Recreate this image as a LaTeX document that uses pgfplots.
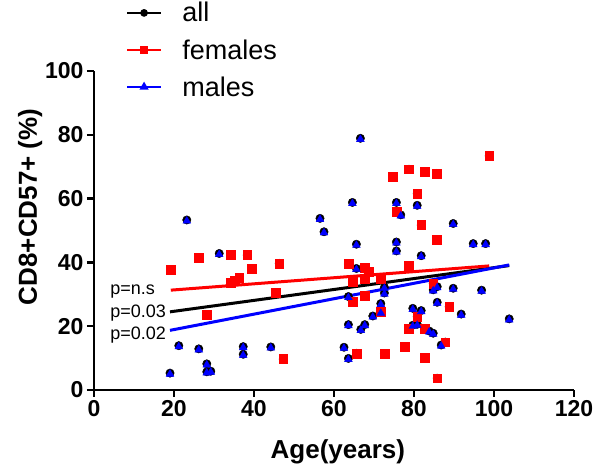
\documentclass[border=0pt]{standalone}
\usepackage{fontspec}
\setmainfont{Liberation Sans}
\usepackage{pgfplots}
\pgfplotsset{compat=1.18}
\usepackage{pgfplotstable}

\pgfplotstableread{
x y
19.0 5.3
21.2 13.9
23.2 53.3
26.2 12.9
28.2 8.2
28.2 5.7
29.2 5.9
31.3 42.8
37.3 13.6
37.3 11.2
44.2 13.5
56.5 53.8
57.5 49.6
62.5 13.4
63.6 9.9
63.6 20.5
63.6 29.3
64.6 58.8
65.6 45.7
65.6 38.1
66.6 78.9
66.7 19.0
67.7 20.5
69.7 23.2
71.7 27.1
71.7 24.4
72.6 32.2
72.6 30.4
75.6 58.8
76.7 54.9
75.6 46.4
75.6 43.6
79.7 25.6
79.7 20.3
80.8 20.6
80.8 57.9
81.8 42.1
81.8 24.9
83.8 18.5
84.8 17.8
84.8 31.4
85.8 32.4
85.8 27.5
86.8 14.1
89.8 52.2
89.8 31.9
91.8 23.8
94.8 45.9
96.9 31.3
97.9 45.9
103.8 22.3
}\males

\pgfplotstableread{
x y
19.2 37.6
26.2 41.5
28.2 23.5
34.2 42.3
38.3 42.3
39.4 38.1
34.2 33.6
35.2 34.3
36.3 35.1
46.3 39.7
45.4 30.5
47.3 9.7
63.6 39.5
64.6 34.0
64.6 27.7
65.6 11.5
67.7 38.4
68.7 37.1
67.7 35.0
67.7 29.6
71.7 34.8
71.7 24.5
72.6 11.4
74.7 66.9
75.7 55.8
78.75 69.2
82.75 68.4
85.7 67.9
80.8 61.6
81.8 51.7
85.7 47.0
78.75 38.9
84.8 33.4
80.8 23.0
78.75 19.3
82.75 19.1
77.7 13.6
82.75 10.2
85.8 3.7
88.8 26.1
87.8 15.0
98.8 73.4
}\females

\pgfplotstableread{
x y
19.0 24.5
103.8 39.0
}\fitall
\pgfplotstableread{
x y
19.2 31.3
98.8 38.9
}\fitfemales
\pgfplotstableread{
x y
19.0 18.7
103.8 39.2
}\fitmales

\definecolor{pred}{RGB}{255,0,0}
\definecolor{pblue}{RGB}{0,0,255}

\begin{document}
\begin{tikzpicture}[x=1pt,y=1pt]
\useasboundingbox (0,0) rectangle (600,468);
\begin{axis}[
  at={(94pt,78pt)}, anchor=south west,
  scale only axis, width=480pt, height=319pt,
  xmin=0, xmax=120, ymin=0, ymax=100,
  xtick={0,20,...,120}, ytick={0,20,...,100},
  axis lines=left,
  axis line style={-, line width=2.4pt, black},
  tick align=outside, major tick length=7pt,
  tick style={line width=2.4pt, black},
  /pgf/number format/assume math mode=true,
  ticklabel style={font=\bfseries\fontsize{23}{27}\selectfont},
  xlabel={Age(years)},
  ylabel={CD8+CD57+ (\%)},
  label style={font=\bfseries\fontsize{26}{30}\selectfont},
  xlabel style={at={(axis description cs:0.508,-0.194)}, anchor=center},
  ylabel style={at={(axis description cs:-0.133,0.574)}, anchor=center, rotate=0},
  clip=false,
  legend style={draw=none, fill=none, at={(axis description cs:0.066,1.222)}, anchor=north west,
    font=\fontsize{27}{31}\selectfont, row sep=12pt, inner sep=0pt,
    /tikz/every odd column/.append style={column sep=18pt}},
  legend cell align=left,
  legend image code/.code={\draw[mark repeat=2,mark phase=2,#1] plot coordinates {(0pt,0pt) (17pt,0pt) (34pt,0pt)};},
]
\addlegendimage{black, line width=2.4pt, mark=*, mark size=2.6pt}
\addlegendentry{all}
\addlegendimage{pred, line width=2.4pt, mark=square*, mark size=2.6pt}
\addlegendentry{females}
\addlegendimage{pblue, line width=2.4pt, mark=triangle*, mark size=3pt}
\addlegendentry{males}

\addplot[only marks, mark=*, mark size=4.2pt, black, forget plot] table[x=x,y=y] {\males};
\addplot[only marks, mark=*, mark size=4.2pt, black, forget plot] table[x=x,y=y] {\females};
\addplot[only marks, mark=square*, mark size=4.4pt, pred, forget plot] table[x=x,y=y] {\females};
\addplot[only marks, mark=triangle*, mark size=4.5pt, pblue, forget plot, mark options={yshift=-1pt}] table[x=x,y=y] {\males};

\addplot[black, line width=3pt, forget plot] table[x=x,y=y] {\fitall};
\addplot[pred, line width=3pt, forget plot] table[x=x,y=y] {\fitfemales};
\addplot[pblue, line width=3pt, forget plot] table[x=x,y=y] {\fitmales};

\node[anchor=west, font=\fontsize{18}{21}\selectfont] at (axis cs:3.2,30.8) {p=n.s};
\node[anchor=west, font=\fontsize{18}{21}\selectfont] at (axis cs:3.2,24.0) {p=0.03};
\node[anchor=west, font=\fontsize{18}{21}\selectfont] at (axis cs:3.2,17.2) {p=0.02};
\end{axis}
\end{tikzpicture}
\end{document}
